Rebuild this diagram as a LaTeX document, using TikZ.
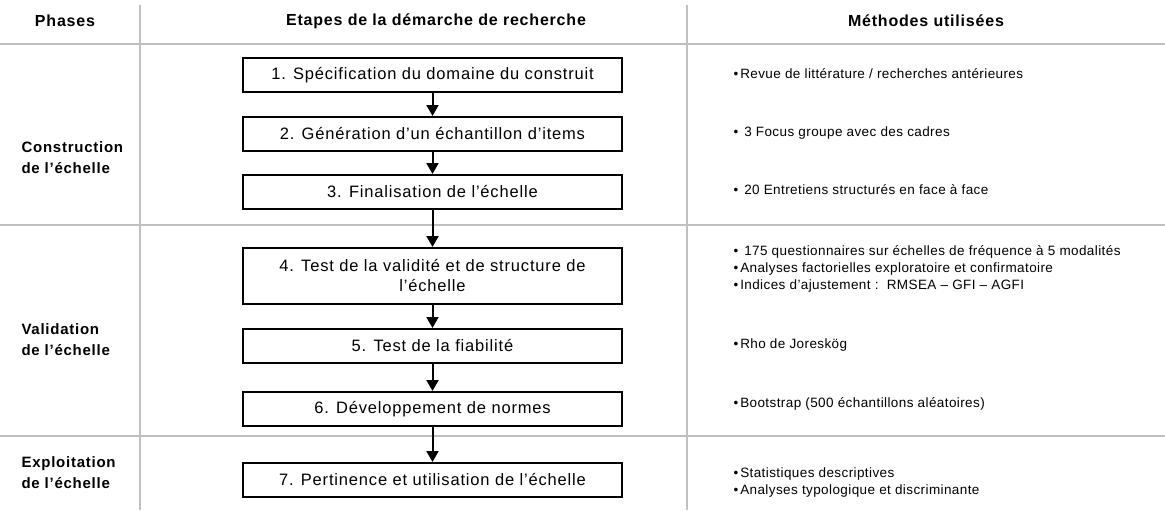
\documentclass[tikz,border=0pt]{standalone}
\usepackage{fontspec}
\setmainfont{Liberation Sans}
\newfontfamily\bx[LetterSpace=5]{Liberation Sans}
\newfontfamily\mx[LetterSpace=3]{Liberation Sans}
\usetikzlibrary{arrows.meta}
\definecolor{gridgray}{RGB}{192,192,192}
\begin{document}
\begin{tikzpicture}[x=1pt,y=-1pt,
  gridline/.style={draw=gridgray,line width=2.8pt},
  stepbox/.style={draw,line width=2pt,minimum width=379pt,minimum height=34pt,inner sep=2pt,align=center,font=\bx\fontsize{16.5pt}{20pt}\selectfont},
  arr/.style={line width=2pt,-{Triangle[width=12pt,length=11pt]}},
  phase/.style={anchor=west,align=left,font=\bx\bfseries\fontsize{15pt}{21pt}\selectfont},
  hdr/.style={font=\bx\bfseries\fontsize{16pt}{18pt}\selectfont},
  meth/.style={anchor=west,font=\mx\fontsize{13.5pt}{17pt}\selectfont}]
\useasboundingbox (0,0) rectangle (1165,511);
% grid
\draw[gridline] (0,44) -- (1165,44);
\draw[gridline] (0,225) -- (1165,225);
\draw[gridline] (0,436) -- (1165,436);
\draw[gridline] (140,5) -- (140,510);
\draw[gridline] (687,5) -- (687,510);
% headers
\node[hdr] (h1) at (65,21) {Phases};
\node[hdr] (h2) at (436,21) {Etapes de la démarche de recherche};
\node[hdr] (h3) at (926,21) {Méthodes utilisées};
% phases
\node[phase] (p1) at (18,158) {Construction\\de l’échelle};
\node[phase] (p2) at (18,340) {Validation\\de l’échelle};
\node[phase] (p3) at (18,473) {Exploitation\\de l’échelle};
% steps
\node[stepbox] (b1) at (432.5,75) {1. Spécification du domaine du construit};
\node[stepbox] (b2) at (432.5,134) {2. Génération d’un échantillon d’items};
\node[stepbox] (b3) at (432.5,192) {3. Finalisation de l’échelle};
\node[stepbox,minimum height=56pt] (b4) at (432.5,276) {4. Test de la validité et de structure de\\l’échelle};
\node[stepbox] (b5) at (432.5,346) {5. Test de la fiabilité};
\node[stepbox] (b6) at (432.5,409) {6. Développement de normes};
\node[stepbox] (b7) at (432.5,480) {7. Pertinence et utilisation de l’échelle};
\draw[arr] (b1) -- (b2);
\draw[arr] (b2) -- (b3);
\draw[arr] (b3) -- (b4);
\draw[arr] (b4) -- (b5);
\draw[arr] (b5) -- (b6);
\draw[arr] (b6) -- (b7);
% methods
\node[meth] (m1) at (730,74) {\textbullet\hspace{2pt}Revue de littérature / recherches antérieures};
\node[meth] (m2) at (730,133) {\textbullet\hspace{6pt}3 Focus groupe avec des cadres};
\node[meth] (m3) at (730,190) {\textbullet\hspace{6pt}20 Entretiens structurés en face à face};
\node[meth] (m4) at (730,252) {\textbullet\hspace{6pt}175 questionnaires sur échelles de fréquence à 5 modalités};
\node[meth] (m5) at (730,269) {\textbullet\hspace{2pt}Analyses factorielles exploratoire  et confirmatoire};
\node[meth] (m6) at (730,286) {\textbullet\hspace{2pt}Indices d’ajustement :\ \ RMSEA – GFI – AGFI};
\node[meth] (m7) at (730,345) {\textbullet\hspace{2pt}Rho de Joreskög};
\node[meth] (m8) at (730,404) {\textbullet\hspace{2pt}Bootstrap (500 échantillons aléatoires)};
\node[meth] (m9) at (730,474) {\textbullet\hspace{2pt}Statistiques descriptives};
\node[meth] (m10) at (730,491) {\textbullet\hspace{2pt}Analyses typologique et discriminante};
\end{tikzpicture}
\end{document}
